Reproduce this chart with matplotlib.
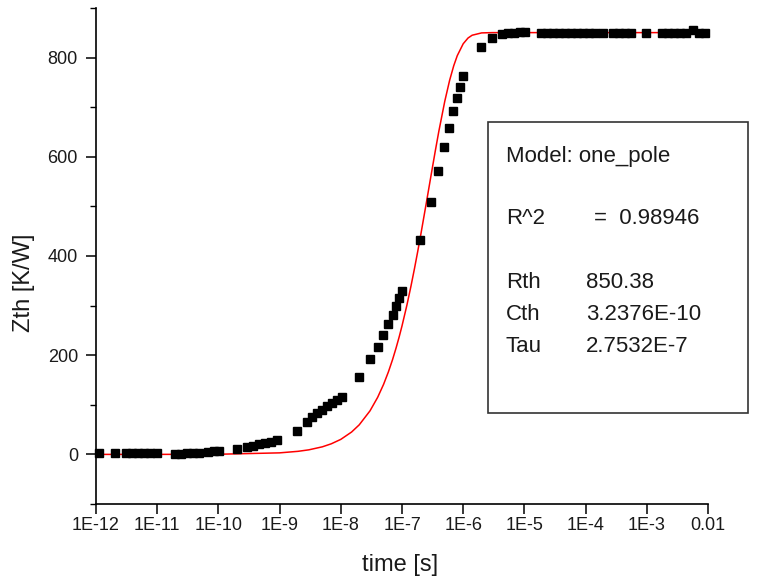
import numpy as np
import matplotlib
matplotlib.use("Agg")
import matplotlib.pyplot as plt
from matplotlib.patches import Rectangle
from matplotlib.ticker import FixedLocator, LogLocator, NullFormatter

# measured data: log10(time) and Zth
log_t = [-11.95, -11.69, -11.51, -11.41, -11.31, -11.22, -11.12, -11.0,
         -10.71, -10.61, -10.51, -10.42, -10.32, -10.17, -10.07, -9.99,
         -9.70, -9.53, -9.43, -9.34, -9.24, -9.14, -9.04,
         -8.72, -8.55, -8.47, -8.39, -8.31, -8.23, -8.14, -8.06, -7.98,
         -7.70, -7.52, -7.39, -7.31, -7.23, -7.15, -7.10, -7.05, -7.00,
         -6.71, -6.53, -6.41, -6.31, -6.23, -6.17, -6.10, -6.05, -6.00,
         -5.71, -5.53, -5.37, -5.27, -5.17, -5.07, -4.99,
         -4.73, -4.63, -4.53, -4.43, -4.34, -4.24, -4.14, -4.04, -3.94, -3.85, -3.72,
         -3.55, -3.45, -3.36, -3.26, -3.01,
         -2.75, -2.65, -2.56, -2.46, -2.36, -2.25, -2.15, -2.05]
zth = [2, 2, 2, 2, 2, 2, 2, 2,
       1, 1, 2, 2, 3, 5, 6, 6,
       11, 15, 17, 20, 23, 26, 30,
       48, 65, 75, 83, 90, 97, 104, 110, 116,
       156, 192, 216, 240, 262, 281, 299, 315, 330,
       432, 508, 572, 620, 659, 693, 719, 741, 762,
       822, 840, 848, 850, 850, 851, 851,
       850, 850, 850, 850, 850, 850, 850, 850, 850, 850, 850,
       850, 850, 850, 850, 850,
       850, 850, 850, 850, 850, 856, 850, 850]

# one_pole model curve
fit_t = [1e-12, 1e-11, 1e-10, 1e-9, 2e-9, 3e-9, 5e-9, 7e-9, 1e-8, 1.5e-8, 2e-8,
         3e-8, 4e-8, 5e-8, 6e-8, 7e-8, 8e-8, 9e-8, 1e-7, 1.2e-7, 1.4e-7, 1.6e-7,
         1.8e-7, 2e-7, 2.5e-7, 3e-7, 3.5e-7, 4e-7, 5e-7, 6e-7, 7e-7, 8e-7, 1e-6,
         1.2e-6, 1.4e-6, 2e-6, 3e-6, 1e-2]
fit_z = [0, 0.03, 0.31, 3.1, 6.2, 9.2, 15.3, 21.4, 30.3, 45.1, 59.6,
         87.8, 115.0, 141.2, 166.5, 190.9, 214.5, 237.1, 259.0, 300.4, 339.0, 374.8,
         408.1, 439.0, 507.4, 564.3, 611.9, 651.5, 712.0, 754.2, 783.5, 803.9, 827.9,
         839.5, 845.1, 849.8, 850.37, 850.38]

xtick_vals = [1e-12, 1e-11, 1e-10, 1e-9, 1e-8, 1e-7, 1e-6, 1e-5, 1e-4, 1e-3, 1e-2]
xtick_labels = ["1E-12", "1E-11", "1E-10", "1E-9", "1E-8", "1E-7", "1E-6",
                "1E-5", "1E-4", "1E-3", "0.01"]
ytick_vals = [0, 200, 400, 600, 800]

box_lines = [("Model: one_pole", ""), ("R^2", "=  0.98946"),
             ("Rth", "850.38"), ("Cth", "3.2376E-10"), ("Tau", "2.7532E-7")]

plt.rcParams['font.family'] = ['Liberation Sans', 'DejaVu Sans']
txtc = '#1a1a1a'

fig = plt.figure(figsize=(7.61, 5.82), dpi=100)
W, H = 761, 582
ax = fig.add_axes([96 / W, 1 - 504 / H, (708 - 96) / W, (504 - 8) / H])

t = 10 ** np.array(log_t)
ax.plot(fit_t, fit_z, color='#ff0000', lw=1.1, zorder=2)
ax.plot(t, zth, ls='none', marker='s', ms=6.2, color='black', zorder=3, clip_on=False)

ax.set_xscale('log')
ax.set_xlim(1e-12, 1e-2)
ax.set_ylim(-100, 900)

ax.set_xticks(xtick_vals)
ax.set_xticklabels(xtick_labels)
ax.xaxis.set_minor_locator(LogLocator(base=10, subs=np.arange(2, 10)))
ax.xaxis.set_minor_formatter(NullFormatter())
ax.set_yticks(ytick_vals)
ax.yaxis.set_minor_locator(FixedLocator([-100, 100, 300, 500, 700, 900]))

for s in ['top', 'right']:
    ax.spines[s].set_visible(False)
for s in ['left', 'bottom']:
    ax.spines[s].set_linewidth(1.2)
    ax.spines[s].set_color('black')

ax.tick_params(axis='both', which='major', direction='out', length=7, width=1.1,
               labelsize=13, colors='black', labelcolor=txtc)
ax.tick_params(axis='both', which='minor', direction='out', length=4.5, width=1.0)
ax.tick_params(axis='x', which='major', pad=2)
ax.tick_params(axis='y', which='major', pad=6)

ax.set_xlabel('time [s]', fontsize=17, color=txtc)
ax.set_ylabel('Zth [K/W]', fontsize=17, color=txtc)
ax.xaxis.set_label_coords(0.497, -0.123)
ax.yaxis.set_label_coords(-0.118, 0.446)
ax.xaxis.label.set_va('center')
ax.yaxis.label.set_va('center')

# parameter box
rect = Rectangle((488 / W, 1 - 413 / H), (748 - 488) / W, (413 - 122) / H,
                 transform=fig.transFigure, fill=False, edgecolor='#333333', lw=1.2)
fig.patches.append(rect)
ys = [157, 218, 283, 315, 347]
for (a, b), y in zip(box_lines, ys):
    fig.text(506 / W, 1 - y / H, a, fontsize=16, color=txtc, va='center', ha='left')
    if b:
        xb = 594 if b.startswith('=') else 586
        fig.text(xb / W, 1 - y / H, b, fontsize=16, color=txtc, va='center', ha='left')

fig.savefig('out.png', dpi=100)
